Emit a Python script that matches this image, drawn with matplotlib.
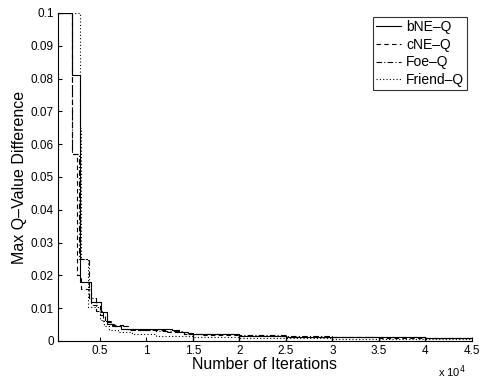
import matplotlib
matplotlib.use("Agg")
import matplotlib.pyplot as plt
from matplotlib.ticker import FuncFormatter, MultipleLocator

plt.rcParams['font.family'] = ['Liberation Sans', 'DejaVu Sans']

# Convergence traces: iteration at which each value starts (step-post)
bne_x = [500, 2000, 2900, 4100, 5100, 5800, 6500, 7300, 12800, 13500, 14500,
         15000, 15000, 15010, 20000, 20000, 20010, 25000, 25000, 25010,
         30000, 30000, 30010, 35000, 35000, 35010, 40000, 40000, 40010, 45000]
bne_y = [0.1, 0.081, 0.018, 0.012, 0.0088, 0.0052, 0.0045, 0.0038, 0.0032, 0.0026, 0.0023,
         0.0023, 0.0, 0.0022, 0.0022, 0.0, 0.0015, 0.0015, 0.0, 0.0013,
         0.0013, 0.0, 0.0012, 0.0012, 0.0, 0.0011, 0.0011, 0.0, 0.0009, 0.0009]

cne_x = [500, 2000, 2500, 3000, 4000, 5000, 5600, 6200, 7500, 9000, 12000, 14000,
         16000, 20000, 25000, 30000, 35000, 40000, 45000]
cne_y = [0.1, 0.057, 0.02, 0.016, 0.011, 0.008, 0.0058, 0.0048, 0.0038, 0.0032, 0.0028,
         0.0022, 0.0018, 0.0016, 0.0013, 0.0012, 0.001, 0.0009, 0.0008]

foe_x = [500, 2050, 2800, 3800, 4600, 5300, 6200, 8000, 11000, 14000, 20000, 25000,
         30000, 40000, 45000]
foe_y = [0.1, 0.057, 0.025, 0.013, 0.009, 0.006, 0.0045, 0.0035, 0.003, 0.002, 0.0018,
         0.0016, 0.0013, 0.001, 0.001]

friend_x = [500, 2900, 3000, 3700, 5000, 5400, 6000, 7000, 8500, 11000, 15000, 20000,
            30000, 45000]
friend_y = [0.1, 0.065, 0.025, 0.0105, 0.0065, 0.0045, 0.0035, 0.0028, 0.002, 0.0015,
            0.0011, 0.0009, 0.0007, 0.0006]

series = [
    ("bNE\u2013Q", bne_x, bne_y, "-"),
    ("cNE\u2013Q", cne_x, cne_y, (0, (4, 3))),
    ("Foe\u2013Q", foe_x, foe_y, (0, (5, 2, 1, 2))),
    ("Friend\u2013Q", friend_x, friend_y, (0, (1, 2))),
]

fig = plt.figure(figsize=(4.81, 3.81), dpi=100)
ax = fig.add_axes([0.1206, 0.105, 0.8604, 0.861])

for label, xs, ys, ls in series:
    ax.plot(xs, ys, color="black", linestyle=ls, linewidth=0.8,
            drawstyle="steps-post", label=label)

ax.set_xlim(500, 45000)
ax.set_ylim(0, 0.1)
ax.xaxis.set_major_locator(MultipleLocator(5000))
ax.yaxis.set_major_locator(MultipleLocator(0.01))
ax.xaxis.set_major_formatter(FuncFormatter(lambda v, p: f"{v/1e4:g}"))
ax.yaxis.set_major_formatter(FuncFormatter(lambda v, p: f"{round(v, 2):g}"))

for side in ("top", "right"):
    ax.spines[side].set_visible(False)
for side in ("left", "bottom"):
    ax.spines[side].set_linewidth(0.8)
ax.tick_params(direction="in", length=3, width=0.8, labelsize=8.5, pad=3)

ax.set_xlabel("Number of Iterations", fontsize=11.5, labelpad=0)
ax.set_ylabel("Max Q\u2013Value Difference", fontsize=11.5, labelpad=3)
ax.text(0.985, -0.068, r"x 10$^4$", transform=ax.transAxes, fontsize=8,
        ha="right", va="top")

leg = ax.legend(loc="upper right", bbox_to_anchor=(0.988, 0.988), fontsize=10,
                frameon=True, fancybox=False, handlelength=1.8, borderpad=0.2,
                labelspacing=0.28, handletextpad=0.35, borderaxespad=0.0)
leg.get_frame().set_edgecolor("black")
leg.get_frame().set_linewidth(0.8)

fig.savefig("out.png", dpi=100)
